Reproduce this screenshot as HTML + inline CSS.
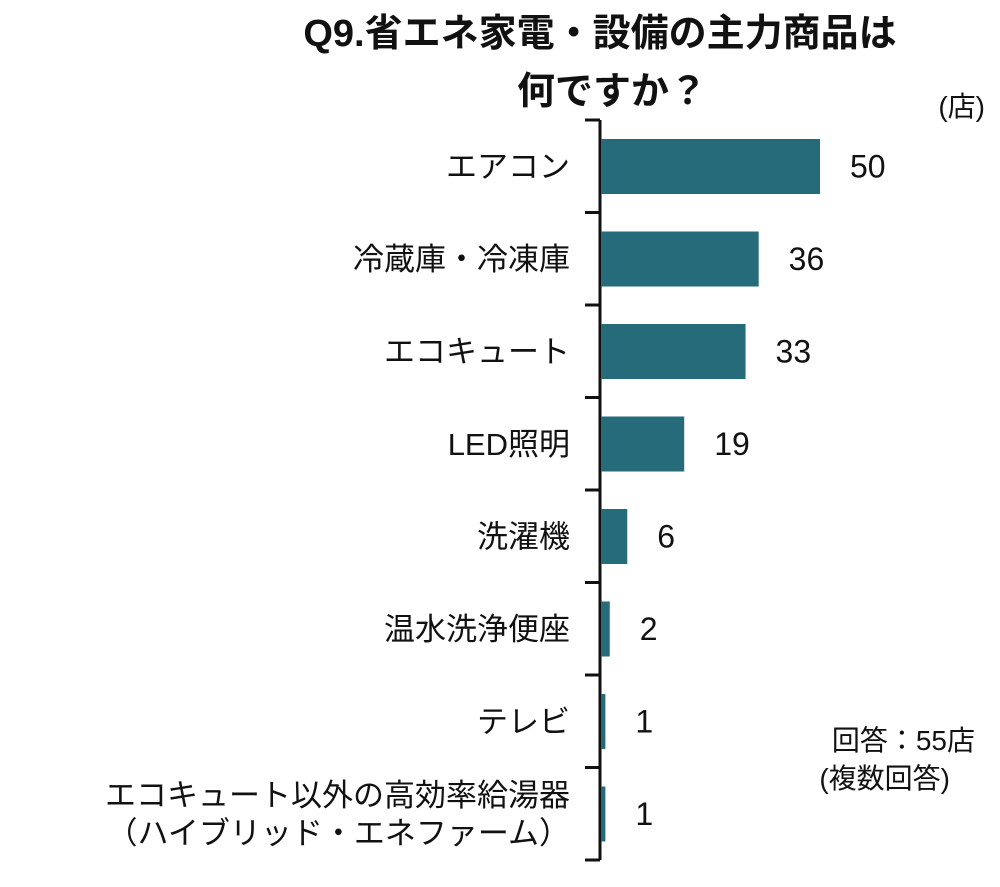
<!DOCTYPE html>
<html><head><meta charset="utf-8"><style>
body{margin:0;background:#fff;}
svg text{font-family:"Liberation Sans","Noto Sans CJK JP",sans-serif;fill:#111;}
</style></head><body>
<svg width="1000" height="882" viewBox="0 0 1000 882">
<text x="600" y="46" text-anchor="middle" font-size="38" font-weight="bold">Q9.省エネ家電・設備の主力商品は</text>
<text x="612" y="104" text-anchor="middle" font-size="38" font-weight="bold">何ですか？</text>
<text x="985" y="116" text-anchor="end" font-size="28">(店)</text>
<text x="975" y="750" text-anchor="end" font-size="28">回答：55店</text>
<text x="950" y="788" text-anchor="end" font-size="28">(複数回答)</text>
<g id="chart"></g>
</svg>
<script>
const categories=["エアコン","冷蔵庫・冷凍庫","エコキュート","LED照明","洗濯機","温水洗浄便座","テレビ","エコキュート以外の高効率給湯器|（ハイブリッド・エネファーム）"];
const values=[50,36,33,19,6,2,1,1];
const g=document.getElementById('chart');
const NS='http://www.w3.org/2000/svg';
const x0=601, scale=4.38, yTop=120, step=92.5;
function xs(v){return x0+v*scale;}
function yb(i){return yTop+i*step;}
function mk(t,a){const e=document.createElementNS(NS,t);for(const k in a)e.setAttribute(k,a[k]);g.appendChild(e);return e;}
const ax=mk('line',{x1:600,y1:yTop,x2:600,y2:yb(categories.length),stroke:'#111','stroke-width':3});


for(let i=0;i<=categories.length;i++){
  const t=mk('line',{x1:585,y1:yb(i),x2:600,y2:yb(i),stroke:'#111','stroke-width':3});
  
  
}
values.forEach((v,i)=>{
  const r=mk('rect',{x:x0,y:yb(i)+19,width:Math.max(xs(v)-x0,0),height:55,fill:'#266B7A'});
  
  
  const cy=yb(i)+19+27.5;
  const vt=mk('text',{x:xs(v)+30,y:cy+11,'font-size':32});
  vt.textContent=v;
  
  
  const parts=categories[i].split('|');
  parts.forEach((p,j)=>{
    const off=parts.length>1?(j===0?-8:30):11;
    const lt=mk('text',{x:570,y:cy+off,'text-anchor':'end','font-size':31});
    lt.textContent=p;
    
    
  });
});
</script>
</body></html>
